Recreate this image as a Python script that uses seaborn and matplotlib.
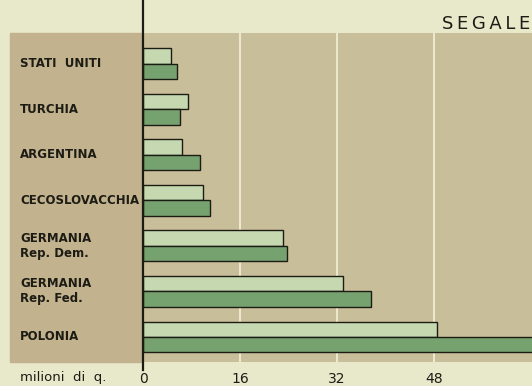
import matplotlib
matplotlib.use("Agg")
import matplotlib.pyplot as plt
import matplotlib.transforms as mtransforms
from matplotlib.patches import Rectangle
import pandas as pd
import seaborn as sns

# rye production, milioni di quintali (two periods per country)
countries = ["STATI  UNITI", "TURCHIA", "ARGENTINA", "CECOSLOVACCHIA",
             "GERMANIA\nRep. Dem.", "GERMANIA\nRep. Fed.", "POLONIA"]
period_a = [4.6, 7.4, 6.4, 9.9, 23.1, 33.0, 48.5]
period_b = [5.6, 6.1, 9.4, 11.1, 23.8, 37.6, 66.0]
series = ["periodo A", "periodo B"]
xticks = [0, 16, 32, 48]

# colours
cream = "#e8e8ca"
tan_plot = "#c9be9a"
tan_labels = "#c2b28e"
light_green = "#c6d8b0"
dark_green = "#76a26f"
ink = "#1c1c14"

df = pd.DataFrame({
    "country": countries * 2,
    "value": period_a + period_b,
    "series": [series[0]] * len(countries) + [series[1]] * len(countries),
})

W, H = 532, 386
fig = plt.figure(figsize=(W / 100, H / 100), dpi=100)
fig.patch.set_facecolor(cream)

# tan panel behind labels
fig.patches.append(Rectangle((10 / W, (H - 362) / H), (143 - 10) / W, 329 / H,
                             transform=fig.transFigure, color=tan_labels, zorder=-1))

ax = fig.add_axes([143 / W, (H - 362) / H, (W - 143) / W, 329 / H])
ax.set_facecolor(tan_plot)

sns.barplot(data=df, y="country", x="value", hue="series", orient="h",
            palette=[light_green, dark_green], saturation=1, width=0.68,
            edgecolor=ink, linewidth=1.0, legend=False, ax=ax, zorder=2)

for t in xticks[1:]:
    ax.axvline(t, color="#ebe8cc", lw=1.5, zorder=1)

# main axis line running past the panel
ax.axvline(0, ymin=-0.025, ymax=1.11, clip_on=False, color=ink, lw=1.6, zorder=3)

ax.set_xlim(0, 64.2)
ax.set_ylim(6.55, -0.68)
ax.set_xticks(xticks)
ax.set_xticklabels([str(t) for t in xticks], fontsize=10, color=ink)
ax.tick_params(axis="x", length=0, pad=7)
ax.set_yticks([])
ax.set_xlabel("")
ax.set_ylabel("")
for s in ax.spines.values():
    s.set_visible(False)

trans = mtransforms.blended_transform_factory(fig.transFigure, ax.transData)
for i, c in enumerate(countries):
    ax.text(20 / W, i, c, transform=trans, ha="left", va="center",
            fontsize=8.5, fontweight="bold", color=ink, linespacing=1.2,
            clip_on=False)

fig.text(20 / W, 1 - 377 / H, "milioni  di  q.", ha="left", va="center",
         fontsize=9.5, color=ink)
fig.text(530 / W, 1 - 24 / H, "\u2009".join("SEGALE"), ha="right", va="center",
         fontsize=13, color=ink)

fig.savefig("out.png", dpi=100, facecolor=cream)
